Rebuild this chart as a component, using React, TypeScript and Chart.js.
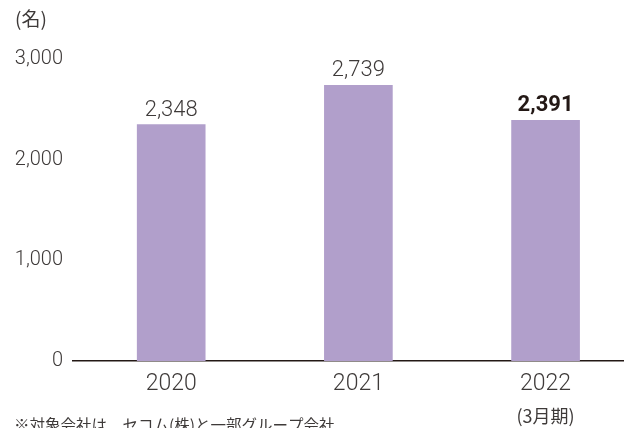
import { useEffect, useRef } from 'react';
import { Chart, registerables } from 'chart.js';

Chart.register(...registerables);

const years = ['2020', '2021', '2022'];
const employees = [2348, 2739, 2391];
const yTickValues = [0, 1000, 2000, 3000];
const unitLabel = '(名)';
const periodNote = '(3月期)';
const footnote = '※対象会社は、セコム(株)と一部グループ会社';

const NUM_FONT = "Roboto, 'Noto Sans', sans-serif";
const JP_FONT = "'Noto Sans CJK JP', 'Noto Sans', sans-serif";
const TEXT = '#3e3a39';
const BAR = '#b19fcb';

const extrasPlugin = {
  id: 'extras',
  afterDatasetsDraw(chart: any) {
    const ctx = chart.ctx;
    const meta = chart.getDatasetMeta(0);
    ctx.save();
    meta.data.forEach((bar: any, i: number) => {
      const last = i === employees.length - 1;
      ctx.font = (last ? 'bold ' : '300 ') + '22px ' + NUM_FONT;
      ctx.fillStyle = last ? '#231815' : TEXT;
      ctx.textAlign = 'center';
      ctx.textBaseline = 'alphabetic';
      ctx.fillText(employees[i].toLocaleString('en-US'), bar.x, bar.y - 9);
    });
    ctx.font = '19px ' + JP_FONT;
    ctx.fillStyle = TEXT;
    ctx.textAlign = 'left';
    ctx.textBaseline = 'middle';
    ctx.fillText(unitLabel, 15, 19);
    const xs = chart.scales.x;
    ctx.textAlign = 'center';
    ctx.font = '18px ' + JP_FONT;
    ctx.fillText(periodNote, xs.getPixelForValue(years.length - 1), 416);
    ctx.textAlign = 'left';
    ctx.textBaseline = 'top';
    ctx.font = '15.5px ' + JP_FONT;
    ctx.fillText(footnote, 14, 417);
    ctx.restore();
  },
};

export default function App() {
  const ref = useRef<HTMLCanvasElement | null>(null);
  useEffect(() => {
    if (!ref.current) return;
    const chart = new Chart(ref.current, {
      type: 'bar',
      data: {
        datasets: [
          {
            data: employees.map((v, i) => ({ x: i, y: v })),
            backgroundColor: BAR,
            barThickness: 68,
          },
        ],
      },
      options: {
        animation: false,
        responsive: false,
        layout: { padding: { top: 59, left: 0, right: 0, bottom: 0 } },
        plugins: { legend: { display: false }, tooltip: { enabled: false } },
        scales: {
          x: {
            type: 'linear',
            min: -0.5246,
            max: 2.419,
            offset: false,
            afterBuildTicks: (s: any) => {
              s.ticks = years.map((_, i) => ({ value: i }));
            },
            afterFit: (s: any) => {
              s.height = 67;
            },
            grid: { display: false, drawTicks: false },
            border: { display: true, color: '#231815', width: 1.5 },
            ticks: {
              padding: 9,
              autoSkip: false,
              maxRotation: 0,
              color: TEXT,
              font: { family: NUM_FONT, size: 23, weight: '300' },
              callback: (v: any) => years[v] ?? '',
            },
          },
          y: {
            min: 0,
            max: 3000,
            afterBuildTicks: (s: any) => {
              s.ticks = yTickValues.map((v) => ({ value: v }));
            },
            afterFit: (s: any) => {
              s.width = 73;
            },
            grid: { display: false, drawTicks: false },
            border: { display: false },
            ticks: {
              padding: 10,
              color: TEXT,
              font: { family: NUM_FONT, size: 20, weight: '300' },
              callback: (v: any) => Number(v).toLocaleString('en-US'),
            },
          },
        },
      },
      plugins: [extrasPlugin],
    } as any);
    return () => chart.destroy();
  }, []);
  return (
    <div style={{ position: 'fixed', left: 0, top: 0, width: 624, height: 428, background: '#fff' }}>
      <canvas ref={ref} width={624} height={428} />
    </div>
  );
}
